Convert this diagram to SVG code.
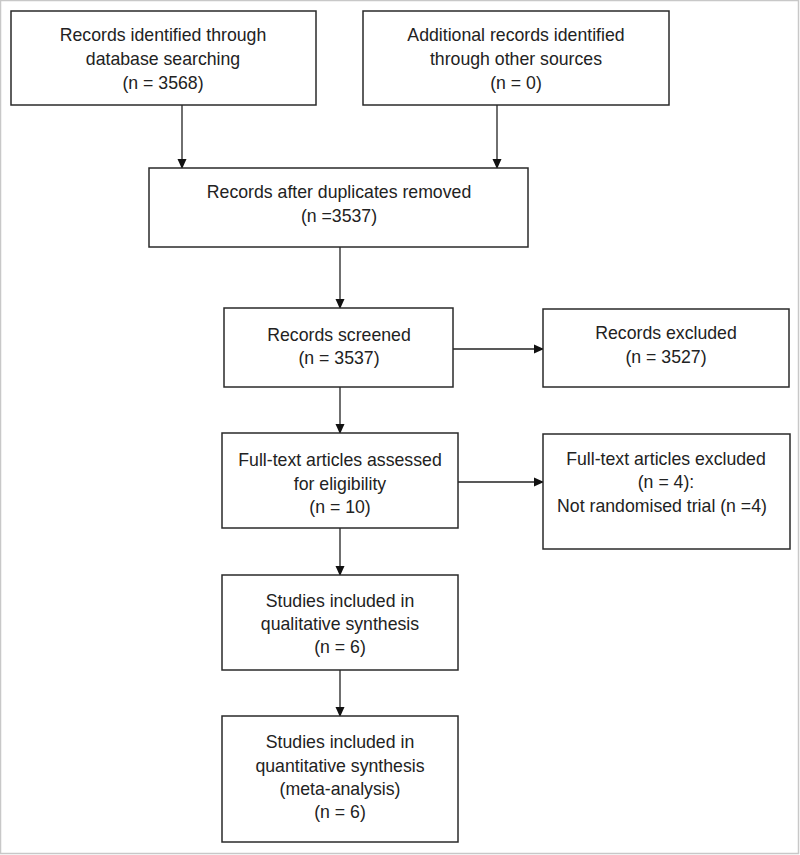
<svg xmlns="http://www.w3.org/2000/svg" width="800" height="855" viewBox="0 0 800 855">
<style>
.box{fill:#fff;stroke:#2a2a2a;stroke-width:1.5}
.t{font-family:"Liberation Sans",Arial,sans-serif;font-size:17.7px;fill:#222;text-anchor:middle}
.c{stroke:#222;stroke-width:1.3;fill:none}
</style>
<defs>
<marker id="ah" markerWidth="10" markerHeight="10" refX="9" refY="5" orient="auto" markerUnits="userSpaceOnUse">
<path d="M0,0.5 L10,5 L0,9.5 z" fill="#111"/>
</marker>
</defs>
<rect x="0" y="0" width="800" height="855" fill="#fff"/>
<rect x="0.5" y="0.5" width="798" height="853" fill="none" stroke="#c8c8c8" stroke-width="1.5"/>
<g id="connectors">
<line class="c" x1="182" y1="105" x2="182" y2="168" marker-end="url(#ah)"/>
<line class="c" x1="497" y1="105" x2="497" y2="168" marker-end="url(#ah)"/>
<line class="c" x1="340" y1="247" x2="340" y2="308" marker-end="url(#ah)"/>
<line class="c" x1="453" y1="349" x2="543" y2="349" marker-end="url(#ah)"/>
<line class="c" x1="340" y1="387" x2="340" y2="433" marker-end="url(#ah)"/>
<line class="c" x1="458" y1="482" x2="543" y2="482" marker-end="url(#ah)"/>
<line class="c" x1="340" y1="528" x2="340" y2="575" marker-end="url(#ah)"/>
<line class="c" x1="340" y1="670" x2="340" y2="716" marker-end="url(#ah)"/>
</g>
<g id="n1">
<rect class="box" x="11" y="11" width="305" height="94"/>
<text class="t" x="163" y="41">Records identified through</text>
<text class="t" x="163" y="65">database searching</text>
<text class="t" x="163" y="89">(n = 3568)</text>
</g>
<g id="n2">
<rect class="box" x="363" y="11" width="306" height="94"/>
<text class="t" x="516" y="41">Additional records identified</text>
<text class="t" x="516" y="65">through other sources</text>
<text class="t" x="516" y="89">(n = 0)</text>
</g>
<g id="n3">
<rect class="box" x="149" y="168" width="379" height="79"/>
<text class="t" x="339" y="198">Records after duplicates removed</text>
<text class="t" x="339" y="222">(n =3537)</text>
</g>
<g id="n4">
<rect class="box" x="224" y="308" width="229" height="79"/>
<text class="t" x="339" y="341">Records screened</text>
<text class="t" x="339" y="364">(n = 3537)</text>
</g>
<g id="n5">
<rect class="box" x="543" y="309" width="246" height="78"/>
<text class="t" x="666" y="339">Records excluded</text>
<text class="t" x="666" y="363">(n = 3527)</text>
</g>
<g id="n6">
<rect class="box" x="222" y="433" width="236" height="95"/>
<text class="t" x="340" y="466">Full-text articles assessed</text>
<text class="t" x="340" y="490">for eligibility</text>
<text class="t" x="340" y="513">(n = 10)</text>
</g>
<g id="n7">
<rect class="box" x="543" y="434" width="247" height="115"/>
<text class="t" x="666" y="465">Full-text articles excluded</text>
<text class="t" x="666" y="488">(n = 4):</text>
<text class="t" x="662" y="512">Not randomised trial (n =4)</text>
</g>
<g id="n8">
<rect class="box" x="222" y="575" width="236" height="95"/>
<text class="t" x="340" y="607">Studies included in</text>
<text class="t" x="340" y="630">qualitative synthesis</text>
<text class="t" x="340" y="653">(n = 6)</text>
</g>
<g id="n9">
<rect class="box" x="222" y="716" width="236" height="126"/>
<text class="t" x="340" y="748">Studies included in</text>
<text class="t" x="340" y="772">quantitative synthesis</text>
<text class="t" x="340" y="795">(meta-analysis)</text>
<text class="t" x="340" y="818">(n = 6)</text>
</g>
</svg>
